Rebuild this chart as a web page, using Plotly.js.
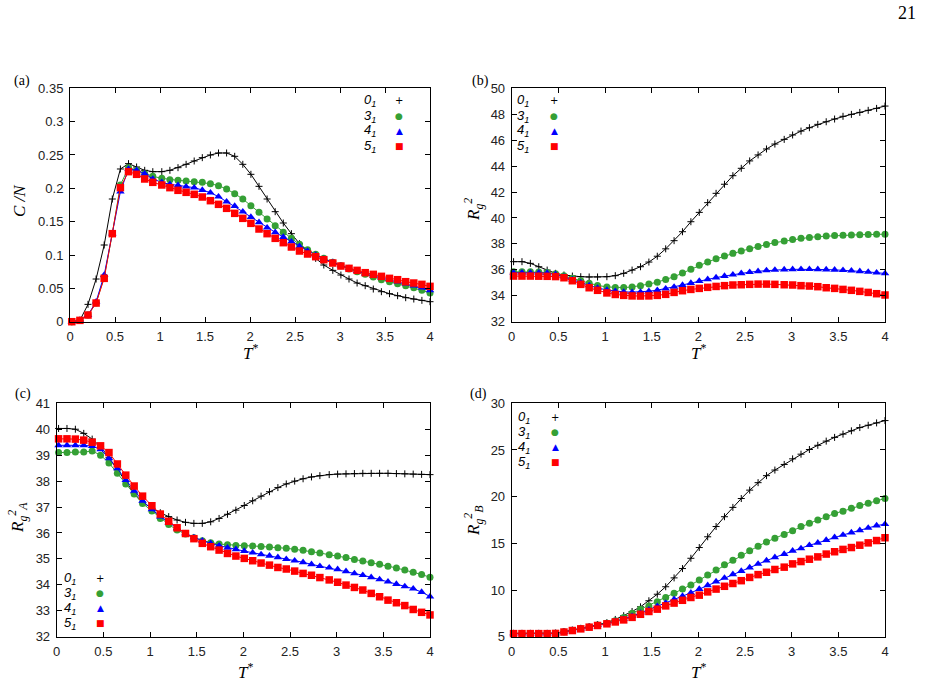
<!DOCTYPE html>
<html>
<head>
<meta charset="utf-8">
<script src="https://cdn.plot.ly/plotly-3.0.1.min.js"></script>
<style>
  html, body { margin: 0; padding: 0; background: #ffffff; }
  #chart { width: 925px; height: 687px; }
</style>
</head>
<body>
<div id="chart"></div>
<script>
// Reduced temperature grid shared by all four panels
const T = [0.02, 0.11, 0.20, 0.29, 0.38, 0.47, 0.56, 0.65, 0.74, 0.83,
           0.92, 1.02, 1.11, 1.20, 1.29, 1.38, 1.47, 1.56, 1.65, 1.74,
           1.83, 1.92, 2.01, 2.10, 2.19, 2.28, 2.37, 2.46, 2.55, 2.64,
           2.73, 2.82, 2.92, 3.01, 3.10, 3.19, 3.28, 3.37, 3.46, 3.55,
           3.64, 3.73, 3.82, 3.91, 4.00];

// Knot types
const knots = ["0", "3", "4", "5"];

// (a) specific heat C/N
const CN_01 = [0.000,0.002,0.026,0.064,0.115,0.184,0.229,0.237,0.232,0.227,
               0.225,0.225,0.227,0.231,0.236,0.241,0.246,0.250,0.253,0.253,
               0.248,0.236,0.221,0.203,0.184,0.165,0.148,0.132,0.117,0.105,
               0.095,0.085,0.077,0.070,0.064,0.058,0.054,0.049,0.045,0.042,
               0.039,0.036,0.034,0.032,0.030];
const CN_31 = [0.000,0.002,0.010,0.028,0.067,0.132,0.205,0.231,0.227,0.222,
               0.218,0.215,0.213,0.212,0.211,0.210,0.209,0.207,0.204,0.199,
               0.192,0.184,0.174,0.164,0.154,0.144,0.134,0.125,0.116,0.108,
               0.101,0.095,0.089,0.084,0.079,0.075,0.071,0.067,0.063,0.060,
               0.057,0.054,0.051,0.047,0.043];
const CN_41 = [0.000,0.002,0.010,0.030,0.070,0.132,0.195,0.229,0.227,0.222,
               0.214,0.209,0.206,0.2045,0.2025,0.201,0.1975,0.1935,0.1875,0.180,
               0.1735,0.165,0.157,0.149,0.141,0.134,0.127,0.120,0.113,0.106,
               0.100,0.094,0.089,0.084,0.080,0.076,0.072,0.069,0.066,0.063,
               0.060,0.057,0.054,0.051,0.047];
const CN_51 = [0.000,0.002,0.010,0.028,0.065,0.132,0.201,0.225,0.221,0.214,
               0.209,0.205,0.201,0.197,0.194,0.191,0.187,0.1815,0.176,0.170,
               0.1625,0.155,0.1475,0.139,0.132,0.125,0.1185,0.112,0.106,0.1015,
               0.0975,0.093,0.088,0.0835,0.080,0.077,0.0735,0.071,0.068,0.065,
               0.063,0.060,0.058,0.056,0.053];

// (b) mean squared radius of gyration
const Rg2_01 = [36.63,36.63,36.5,36.24,35.98,35.73,35.6,35.52,35.47,35.45,
                35.45,35.47,35.55,35.73,35.98,36.24,36.6,37.05,37.62,38.25,
                38.94,39.71,40.43,41.18,41.9,42.6,43.26,43.83,44.4,44.86,
                45.32,45.7,46.06,46.4,46.7,46.96,47.22,47.42,47.63,47.84,
                47.99,48.14,48.3,48.45,48.63];
const Rg2_31 = [35.85,35.85,35.85,35.83,35.8,35.7,35.55,35.35,35.15,34.97,
                34.8,34.68,34.63,34.63,34.68,34.77,34.9,35.05,35.25,35.47,
                35.75,36.05,36.35,36.6,36.85,37.07,37.27,37.45,37.62,37.8,
                37.95,38.1,38.22,38.33,38.43,38.5,38.56,38.6,38.64,38.67,
                38.69,38.71,38.72,38.74,38.75];
const Rg2_41 = [35.78,35.78,35.78,35.77,35.75,35.65,35.47,35.25,35.02,34.8,
                34.6,34.45,34.35,34.3,34.28,34.3,34.35,34.43,34.55,34.68,
                34.83,34.98,35.13,35.27,35.4,35.52,35.63,35.73,35.82,35.89,
                35.95,35.99,36.02,36.04,36.05,36.05,36.04,36.02,36.0,35.97,
                35.93,35.89,35.84,35.78,35.72];
const Rg2_51 = [35.52,35.52,35.52,35.51,35.5,35.48,35.39,35.16,34.88,34.62,
                34.42,34.22,34.1,34.03,33.99,33.98,33.99,34.03,34.11,34.26,
                34.39,34.49,34.57,34.65,34.72,34.78,34.83,34.85,34.88,34.9,
                34.9,34.88,34.85,34.83,34.78,34.75,34.7,34.62,34.57,34.49,
                34.42,34.34,34.26,34.16,34.06];

// (c) block A contribution
const RgA_01 = [40.03,40.03,40.0,39.84,39.62,39.33,38.9,38.43,37.98,37.53,
                37.17,36.95,36.78,36.63,36.5,36.41,36.37,36.37,36.43,36.56,
                36.72,36.88,37.06,37.24,37.42,37.59,37.75,37.89,38.0,38.09,
                38.16,38.21,38.25,38.27,38.28,38.29,38.3,38.3,38.3,38.3,
                38.29,38.28,38.27,38.26,38.25];
const RgA_31 = [39.1,39.1,39.12,39.12,39.16,39.0,38.7,38.3,37.89,37.5,
                37.14,36.85,36.56,36.33,36.11,35.96,35.82,35.7,35.62,35.57,
                35.55,35.52,35.51,35.5,35.48,35.46,35.43,35.41,35.37,35.33,
                35.28,35.23,35.16,35.11,35.05,34.98,34.92,34.85,34.79,34.72,
                34.65,34.57,34.49,34.4,34.29];
const RgA_41 = [39.38,39.38,39.38,39.38,39.35,39.22,38.88,38.49,38.04,37.62,
                37.24,36.91,36.63,36.4,36.18,35.98,35.83,35.7,35.6,35.51,
                35.43,35.37,35.3,35.24,35.17,35.12,35.06,34.99,34.93,34.87,
                34.79,34.72,34.66,34.6,34.52,34.44,34.37,34.29,34.21,34.12,
                34.03,33.94,33.85,33.72,33.55];
const RgA_51 = [39.63,39.63,39.62,39.58,39.5,39.36,39.1,38.66,38.23,37.81,
                37.42,37.05,36.73,36.45,36.2,35.98,35.78,35.6,35.47,35.34,
                35.21,35.11,35.02,34.93,34.84,34.76,34.67,34.61,34.53,34.44,
                34.37,34.28,34.19,34.1,33.99,33.9,33.8,33.67,33.54,33.41,
                33.31,33.2,33.05,32.94,32.84];

// (d) block B contribution
const RgB_01 = [5.36,5.36,5.36,5.36,5.36,5.38,5.54,5.7,5.9,6.07,
                6.3,6.5,6.85,7.25,7.7,8.2,8.85,9.55,10.35,11.3,
                12.3,13.4,14.55,15.7,16.8,17.85,18.85,19.8,20.7,21.5,
                22.25,22.85,23.45,24.05,24.55,25.05,25.5,25.95,26.35,26.7,
                27.05,27.4,27.65,27.9,28.15];
const RgB_31 = [5.35,5.35,5.35,5.35,5.35,5.37,5.52,5.7,5.88,6.05,
                6.25,6.45,6.72,7.05,7.5,7.93,8.3,8.75,9.2,9.65,
                10.1,10.55,11.07,11.62,12.15,12.7,13.2,13.72,14.2,14.7,
                15.15,15.55,15.95,16.35,16.8,17.15,17.5,17.85,18.2,18.45,
                18.75,19.05,19.3,19.55,19.8];
const RgB_41 = [5.35,5.35,5.35,5.35,5.35,5.37,5.52,5.68,5.86,6.04,
                6.23,6.42,6.65,6.9,7.2,7.55,7.9,8.25,8.62,9.0,
                9.36,9.7,10.1,10.5,10.9,11.3,11.68,12.03,12.4,12.8,
                13.15,13.5,13.85,14.2,14.45,14.8,15.05,15.35,15.65,15.9,
                16.15,16.4,16.65,16.9,17.05];
const RgB_51 = [5.33,5.33,5.33,5.33,5.33,5.35,5.5,5.66,5.84,6.02,
                6.2,6.38,6.58,6.8,7.07,7.4,7.7,7.95,8.3,8.6,
                8.9,9.2,9.45,9.8,10.1,10.4,10.7,11.0,11.35,11.65,
                11.9,12.2,12.45,12.8,13.05,13.3,13.55,13.85,14.1,14.35,
                14.55,14.8,15.05,15.3,15.6];

// ---------------------------------------------------------------
const W = 925, H = 687;
const px = v => v / W;          // pixel -> paper x
const py = v => 1 - v / H;      // pixel -> paper y (from top)

const COLORS = ["#000000", "#35a035", "#0000ff", "#ff0000"];
const MARKERS = [
  {symbol: "cross-thin-open", size: 5, line: {width: 1, color: COLORS[0]}},
  {symbol: "circle", size: 7, color: COLORS[1], line: {width: 0}},
  {symbol: "triangle-up", size: 7.5, color: COLORS[2], line: {width: 0}},
  {symbol: "square", size: 7.5, color: COLORS[3], line: {width: 0}}
];
const GLYPHS = ["+", "\u25CF", "\u25B2", "\u25A0"];
const GLYPH_SIZE = [10, 9, 9, 9];

const panels = [
  {key: "a", xa: "x",  ya: "y",  series: [CN_01, CN_31, CN_41, CN_51],
   xdom: [70, 430], ydom: [88.3, 321.7], yrange: [0, 0.35], dtick: 0.05,
   ytitle: "<i>C /N</i>", ytpos: [19, 201], xtpos: [250, 352], lab: [22, 81],
   leg: {right: 378, glyph: 399, rows: [101, 116, 131, 146]}},
  {key: "b", xa: "x2", ya: "y2", series: [Rg2_01, Rg2_31, Rg2_41, Rg2_51],
   xdom: [511.7, 885], ydom: [88.3, 321.7], yrange: [32, 50], dtick: 2,
   ytitle: "<i>R<sub>g</sub><sup>2</sup></i>", ytpos: [473, 210], xtpos: [698, 352], lab: [480, 81],
   leg: {right: 531, glyph: 554, rows: [100, 116, 131, 146]}},
  {key: "c", xa: "x3", ya: "y3", series: [RgA_01, RgA_31, RgA_41, RgA_51],
   xdom: [56.7, 430], ydom: [403.3, 636.7], yrange: [32, 41], dtick: 1,
   ytitle: "<i>R<sub>g</sub><sup>2</sup><sub>A</sub></i>", ytpos: [17, 518], xtpos: [245, 671], lab: [23, 394],
   leg: {right: 78, glyph: 100, rows: [578, 593, 608, 623]}},
  {key: "d", xa: "x4", ya: "y4", series: [RgB_01, RgB_31, RgB_41, RgB_51],
   xdom: [511.7, 885], ydom: [403.3, 636.7], yrange: [5, 30], dtick: 5,
   ytitle: "<i>R<sub>g</sub><sup>2</sup><sub>B</sub></i>", ytpos: [473, 521], xtpos: [698, 671], lab: [478, 394],
   leg: {right: 532, glyph: 555, rows: [417, 432, 447, 462]}}
];

const traces = [];
const layout = {
  width: W, height: H, autosize: false,
  margin: {l: 0, r: 0, t: 0, b: 0, pad: 0},
  paper_bgcolor: "#ffffff", plot_bgcolor: "#ffffff",
  showlegend: false,
  annotations: []
};

const tickFont = {family: "Liberation Sans, Arial, sans-serif", size: 13, color: "#222222"};
const serif = "Liberation Serif, Times New Roman, serif";

panels.forEach(p => {
  p.series.forEach((ys, k) => {
    traces.push({
      type: "scatter", mode: "lines+markers",
      x: T, y: ys, xaxis: p.xa, yaxis: p.ya,
      name: knots[k] + "_1",
      line: {color: COLORS[k], width: 1},
      marker: MARKERS[k],
      cliponaxis: false
    });
  });

  const xname = "xaxis" + p.xa.slice(1);
  const yname = "yaxis" + p.ya.slice(1);
  const common = {
    showline: true, linecolor: "#000000", linewidth: 1, mirror: "ticks",
    ticks: "inside", ticklen: 5, tickwidth: 1, tickcolor: "#000000",
    showgrid: false, zeroline: false, tickfont: tickFont, automargin: false,
    ticklabelstandoff: 3
  };
  layout[xname] = Object.assign({}, common, {
    domain: [px(p.xdom[0]), px(p.xdom[1])],
    anchor: p.ya, range: [0, 4], dtick: 0.5, tick0: 0
  });
  layout[yname] = Object.assign({}, common, {
    domain: [py(p.ydom[1]), py(p.ydom[0])],
    anchor: p.xa, range: p.yrange, dtick: p.dtick, tick0: p.yrange[0]
  });

  // panel tag
  layout.annotations.push({
    xref: "paper", yref: "paper", x: px(p.lab[0]), y: py(p.lab[1]),
    text: "(" + p.key + ")", showarrow: false, xanchor: "center", yanchor: "middle",
    font: {family: serif, size: 14, color: "#000"}
  });
  // y axis title
  layout.annotations.push({
    xref: "paper", yref: "paper", x: px(p.ytpos[0]), y: py(p.ytpos[1]),
    text: p.ytitle, showarrow: false, textangle: -90, xanchor: "center", yanchor: "middle",
    font: {family: serif, size: 17, color: "#000"}
  });
  // x axis title
  layout.annotations.push({
    xref: "paper", yref: "paper", x: px(p.xtpos[0]), y: py(p.xtpos[1]),
    text: "<i>T</i><sup>*</sup>", showarrow: false, xanchor: "center", yanchor: "middle",
    font: {family: serif, size: 17, color: "#000"}
  });
  // key: label on the left, symbol on the right
  p.leg.rows.forEach((ry, k) => {
    layout.annotations.push({
      xref: "paper", yref: "paper", x: px(p.leg.right), y: py(ry),
      text: "<i>" + knots[k] + "<sub>1</sub></i>", showarrow: false,
      xanchor: "right", yanchor: "middle",
      font: {family: "Liberation Sans, Arial, sans-serif", size: 13, color: "#000"}
    });
    layout.annotations.push({
      xref: "paper", yref: "paper", x: px(p.leg.glyph), y: py(ry),
      text: GLYPHS[k], showarrow: false, xanchor: "center", yanchor: "middle",
      font: {family: "DejaVu Sans, sans-serif", size: GLYPH_SIZE[k], color: COLORS[k]}
    });
  });
});

// page number
layout.annotations.push({
  xref: "paper", yref: "paper", x: px(907), y: py(13),
  text: "21", showarrow: false, xanchor: "center", yanchor: "middle",
  font: {family: serif, size: 18, color: "#000"}
});

Plotly.newPlot("chart", traces, layout, {staticPlot: true, displayModeBar: false});
</script>
</body>
</html>
